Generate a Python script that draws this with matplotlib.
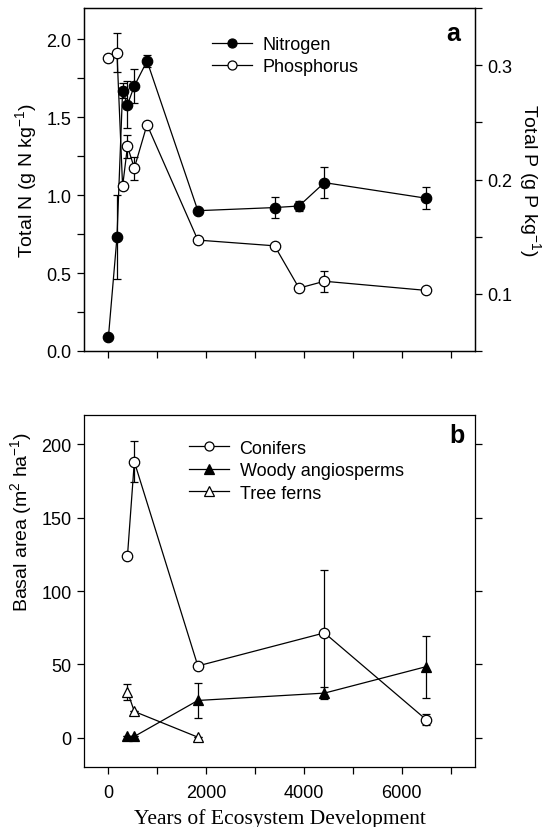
import matplotlib
matplotlib.use("Agg")
import matplotlib.pyplot as plt
from matplotlib.lines import Line2D
from matplotlib.ticker import MultipleLocator, FixedLocator, FuncFormatter

plt.rcParams['font.family'] = ['Liberation Sans', 'DejaVu Sans']
plt.rcParams['mathtext.default'] = 'regular'

# panel a: soil nutrients
years_a = [0, 175, 290, 390, 530, 790, 1830, 3400, 3900, 4420, 6500]
nitrogen = [0.09, 0.73, 1.67, 1.58, 1.70, 1.86, 0.90, 0.92, 0.93, 1.08, 0.98]
nitrogen_err = [0, 0.27, 0.05, 0.15, 0.11, 0.04, 0.02, 0.07, 0.03, 0.10, 0.07]
phosphorus = [0.306, 0.311, 0.194, 0.229, 0.210, 0.248, 0.147, 0.142, 0.105, 0.111, 0.103]
phosphorus_err = [0, 0.017, 0, 0.010, 0.010, 0, 0, 0, 0, 0.009, 0]

# panel b: basal area
years_con = [390, 530, 1830, 4420, 6500]
conifers = [124, 188, 49, 71.5, 12.5]
conifers_err = [0, 14, 0, 43, 4]
years_ang = [390, 530, 1830, 4420, 6500]
angio = [1, 1, 25.5, 30.5, 48.5]
angio_err = [0, 0, 12, 4, 21]
years_fern = [390, 530, 1830]
ferns = [31.5, 18, 0.5]
ferns_err = [5.5, 0, 0]

fig = plt.figure(figsize=(5.45, 8.28), dpi=100)
ax1 = fig.add_axes([0.1541, 0.5749, 0.7174, 0.4142])
ax2 = fig.add_axes([0.1541, 0.0721, 0.7174, 0.4258])

tick_kw = dict(direction='out', length=5, width=0.9, labelsize=13, pad=4)
eb_kw = dict(color='black', lw=0.9, elinewidth=0.9, capsize=3, capthick=0.9,
             markersize=7.5, markeredgewidth=0.9, markeredgecolor='black')


def leg_handle(marker, face):
    return Line2D([], [], color='black', lw=0.9, marker=marker, markersize=6.5,
                  markerfacecolor=face, markeredgecolor='black', markeredgewidth=0.9)


# ---- panel a
axp = ax1.twinx()
ax1.errorbar(years_a, nitrogen, yerr=nitrogen_err, fmt='-o',
             markerfacecolor='black', zorder=3, **eb_kw)
axp.errorbar(years_a, phosphorus, yerr=phosphorus_err, fmt='-o',
             markerfacecolor='white', zorder=3, **eb_kw)
ax1.set_xlim(-500, 7500)
ax1.set_ylim(0, 2.2)
axp.set_ylim(0.05, 0.35)
ax1.xaxis.set_major_locator(MultipleLocator(1000))
ax1.set_xticklabels([])
ax1.yaxis.set_major_locator(MultipleLocator(0.25))
ax1.yaxis.set_major_formatter(FuncFormatter(lambda v, p: f"{v:.1f}" if abs(v / 0.5 - round(v / 0.5)) < 1e-6 else ""))
axp.yaxis.set_major_locator(MultipleLocator(0.05))
axp.yaxis.set_major_formatter(FuncFormatter(lambda v, p: f"{v:.1f}" if abs(v / 0.1 - round(v / 0.1)) < 1e-6 else ""))
ax1.tick_params(**tick_kw)
axp.tick_params(**tick_kw)
ax1.set_ylabel('Total N (g N kg$^{-1}$)', fontsize=14, labelpad=5)
axp.set_ylabel('Total P (g P kg$^{-1}$)', fontsize=14, rotation=270, labelpad=22)
ax1.legend([leg_handle('o', 'black'), leg_handle('o', 'white')], ['Nitrogen', 'Phosphorus'],
           loc='upper left', bbox_to_anchor=(0.287, 0.966), frameon=False, fontsize=13,
           handlelength=2.2, handletextpad=0.55, labelspacing=0.3, borderpad=0.4)
ax1.text(0.962, 0.926, 'a', transform=ax1.transAxes, ha='right', va='center',
         fontsize=18, fontweight='bold')

# ---- panel b
ax2.errorbar(years_con, conifers, yerr=conifers_err, fmt='-o',
             markerfacecolor='white', zorder=3, **eb_kw)
ax2.errorbar(years_ang, angio, yerr=angio_err, fmt='-^',
             markerfacecolor='black', zorder=4, **eb_kw)
ax2.errorbar(years_fern, ferns, yerr=ferns_err, fmt='-^',
             markerfacecolor='white', zorder=4, **eb_kw)
ax2.set_xlim(-500, 7500)
ax2.set_ylim(-20, 220)
ax2.xaxis.set_major_locator(MultipleLocator(1000))
ax2.xaxis.set_major_formatter(FuncFormatter(lambda v, p: f"{int(v)}" if int(v) % 2000 == 0 else ""))
ax2.yaxis.set_major_locator(FixedLocator([0, 50, 100, 150, 200]))
ax2.tick_params(**tick_kw)
ax2.tick_params(axis='x', pad=7)
ax2.tick_params(axis='y', right=True, labelright=False)
ax2.set_ylabel('Basal area (m$^{2}$ ha$^{-1}$)', fontsize=14, labelpad=5)
ax2.yaxis.label.set_y(0.70)
ax2.set_xlabel('Years of Ecosystem Development', fontsize=15.5,
               family=['Liberation Serif', 'DejaVu Serif'], labelpad=5)
ax2.legend([leg_handle('o', 'white'), leg_handle('^', 'black'), leg_handle('^', 'white')],
           ['Conifers', 'Woody angiosperms', 'Tree ferns'],
           loc='upper left', bbox_to_anchor=(0.227, 0.975), frameon=False,
           fontsize=13, handlelength=2.2, handletextpad=0.6, labelspacing=0.3, borderpad=0.4)
ax2.text(0.974, 0.942, 'b', transform=ax2.transAxes, ha='right', va='center',
         fontsize=18, fontweight='bold')

for a in (ax1, axp, ax2):
    for s in a.spines.values():
        s.set_linewidth(0.9)

fig.savefig('out.png', dpi=100)
